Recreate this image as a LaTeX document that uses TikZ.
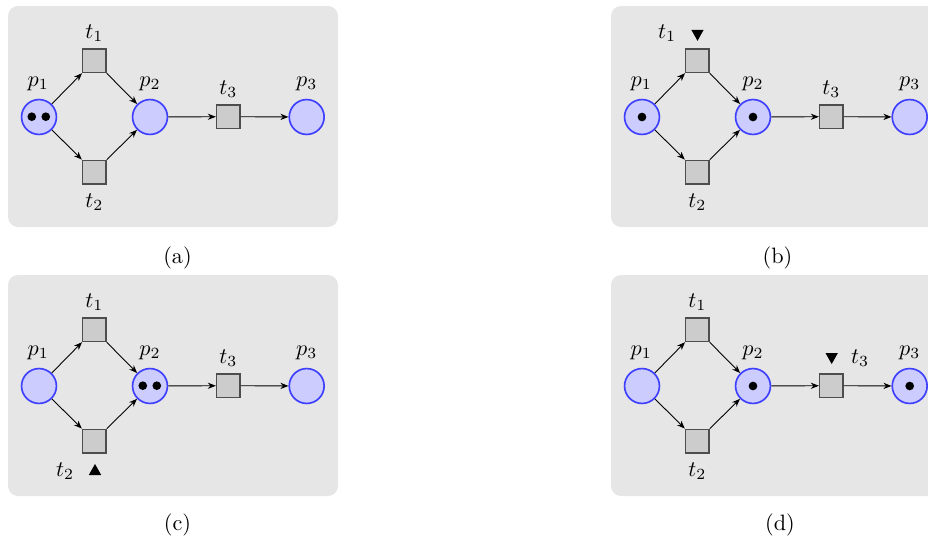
\documentclass[tikz,border=0pt]{standalone}
\usetikzlibrary{arrows.meta}
\definecolor{panelbg}{HTML}{E6E6E6}
\definecolor{placefill}{HTML}{CCCCFF}
\definecolor{placedraw}{HTML}{3F3FFF}
\definecolor{transfill}{HTML}{CCCCCC}
\definecolor{transdraw}{HTML}{4D4D4D}
\newcommand\petrinet[6]{%
  \begin{scope}[shift={(#2,#3)}]
    \path[panel] (8,6) rectangle (338,227);
    \node[place] (#1p1) at (39,117) {};
    \node[place] (#1p2) at (150,117) {};
    \node[place] (#1p3) at (306.7,117) {};
    \node[trans] (#1t1) at (94.3,60.7) {};
    \node[trans] (#1t2) at (94.3,172) {};
    \node[trans] (#1t3) at (228.3,116.7) {};
    \node[lbl] (#1lp1) at (38.3,84) {$p_1$};
    \node[lbl] (#1lp2) at (150,84) {$p_2$};
    \node[lbl] (#1lp3) at (306.7,84) {$p_3$};
    \node[lbl] (#1lt1) at (#4,33) {$t_1$};
    \node[lbl] (#1lt2) at (#5,202) {$t_2$};
    \node[lbl] (#1lt3) at (#6,89) {$t_3$};
    \draw[arc] (#1p1) -- (#1t1);
    \draw[arc] (#1p1) -- (#1t2);
    \draw[arc] (#1t1) -- (#1p2);
    \draw[arc] (#1t2) -- (#1p2);
    \draw[arc] (#1p2) -- (#1t3);
    \draw[arc] (#1t3) -- (#1p3);
  \end{scope}}
\begin{document}
\begin{tikzpicture}[x=0.45pt,y=-0.45pt,
  panel/.style={fill=panelbg,rounded corners=4.5pt},
  place/.style={circle,draw=placedraw,fill=placefill,line width=0.75pt,minimum size=15.7pt,inner sep=0pt},
  trans/.style={rectangle,draw=transdraw,fill=transfill,line width=0.75pt,minimum size=10.5pt,inner sep=0pt},
  tok/.style={circle,fill=black,minimum size=3.9pt,inner sep=0pt},
  arc/.style={-{Stealth[length=3.6pt,width=2.8pt]},line width=0.4pt},
  lbl/.style={inner sep=0pt},
  firemark/.style={fill=black}]
  \useasboundingbox (0,0) rectangle (928,541);
  \clip (0,0) rectangle (928,541);
  % (a)
  \petrinet{a}{0}{0}{94.3}{94.3}{228.3}
  \node[tok] (atok1) at (31.8,116.7) {};
  \node[tok] (atok2) at (45.8,116.7) {};
  \node (capa) at (177.5,257.5) {(a)};
  % (b)
  \petrinet{b}{603}{0}{64}{94.3}{228.3}
  \node[tok] (btok1) at (bp1) {};
  \node[tok] (btok2) at (bp2) {};
  \coordinate (bmk) at (697.5,35.3);
  \fill[firemark] ([shift={(-6.2,-5.5)}]bmk) -- ([shift={(6.2,-5.5)}]bmk) -- ([shift={(0,5.5)}]bmk) -- cycle;
  \node (capb) at (777.5,257.5) {(b)};
  % (c)
  \petrinet{c}{0}{269}{94.3}{65}{228.3}
  \node[tok] (ctok1) at (142.8,385.7) {};
  \node[tok] (ctok2) at (156.8,385.7) {};
  \coordinate (cmk) at (95,469.5);
  \fill[firemark] ([shift={(-6.2,5.5)}]cmk) -- ([shift={(6.2,5.5)}]cmk) -- ([shift={(0,-5.5)}]cmk) -- cycle;
  \node (capc) at (177.5,525) {(c)};
  % (d)
  \petrinet{d}{603}{269}{94.3}{94.3}{257}
  \node[tok] (dtok1) at (dp2) {};
  \node[tok] (dtok2) at (dp3) {};
  \coordinate (dmk) at (831.7,358.5);
  \fill[firemark] ([shift={(-6.2,-5.5)}]dmk) -- ([shift={(6.2,-5.5)}]dmk) -- ([shift={(0,5.5)}]dmk) -- cycle;
  \node (capd) at (780,525) {(d)};
\end{tikzpicture}
\end{document}
